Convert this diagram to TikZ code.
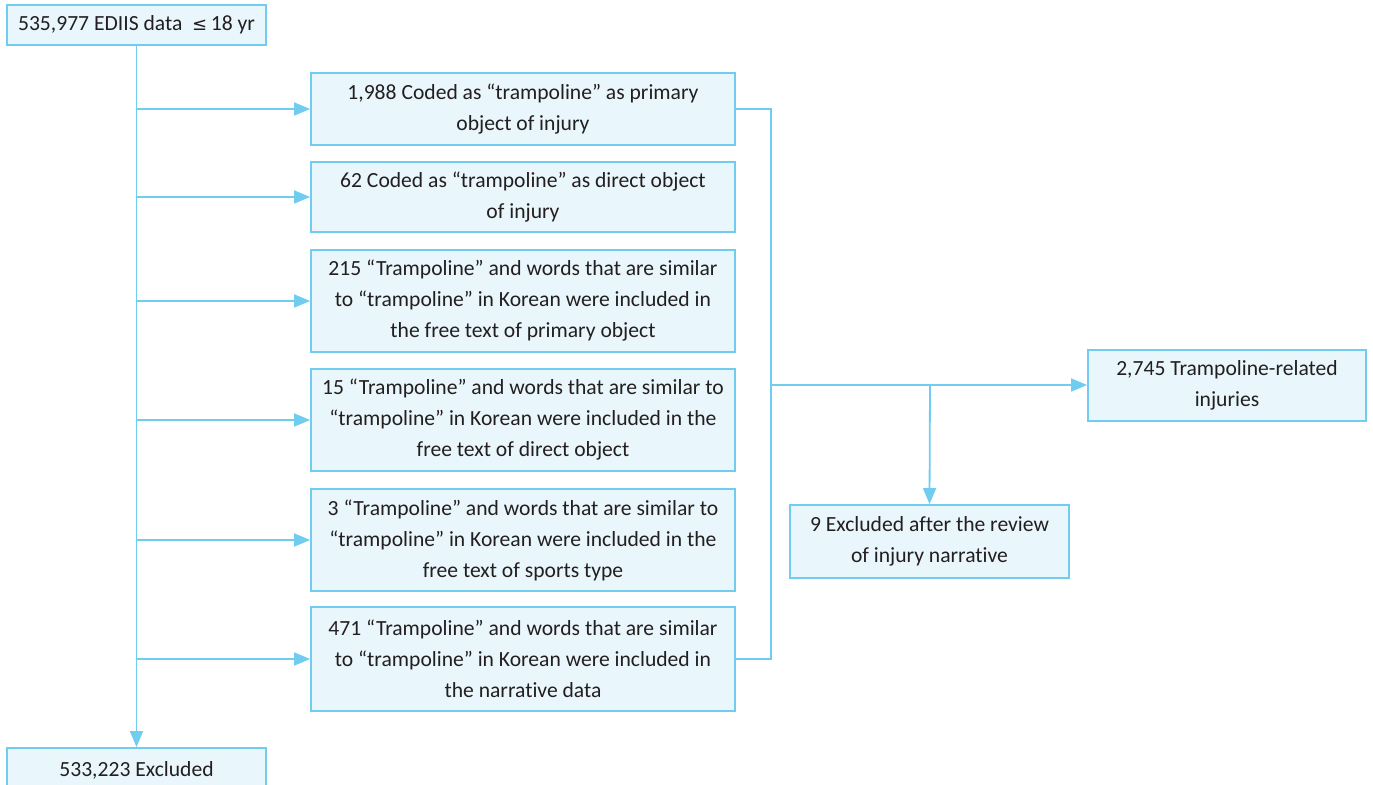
\documentclass[tikz,border=0pt]{standalone}
\usepackage{fontspec}
\setmainfont{Carlito}[Ligatures=NoCommon]
\newfontfamily\symfont{DejaVu Sans}
\usepackage{tikz}
\usetikzlibrary{arrows.meta, calc}
\definecolor{edge}{RGB}{112,205,240}
\definecolor{fillb}{RGB}{233,246,252}
\definecolor{ink}{RGB}{35,31,32}

\begin{document}
\begin{tikzpicture}[x=0.5pt, y=-0.5pt,
    box/.style={draw=edge, fill=fillb, line width=0.9pt, inner sep=0pt,
        align=center, text=ink, font=\fontsize{10.8}{15.5}\selectfont},
    link/.style={draw=edge, line width=0.9pt},
    arr/.style={link, -{Triangle[length=8pt, width=6.5pt]}}]
            \useasboundingbox (0,0) rectangle (1373,785);
            \coordinate (T) at (136.5,25);
            \coordinate (X) at (136.5,770);
            \coordinate (R) at (771,385);
            \coordinate (S) at (930,385);
            \node[box, minimum width=129.5pt, minimum height=20pt] (top) at (T) {535,977 EDIIS data\ \ {\symfont\fontsize{9}{10}\selectfont ≤}\,18 yr};
            \node[box, minimum width=129.5pt, minimum height=22pt] (out) at (X) {533,223 Excluded};
            \node[box, minimum width=212pt, minimum height=36pt] (m1) at (523,109) {1,988 Coded as ``trampoline'' as primary\\object of injury};
            \node[box, minimum width=212pt, minimum height=35pt] (m2) at (523,197) {62 Coded as ``trampoline'' as direct object\\of injury};
            \node[box, minimum width=212pt, minimum height=51pt] (m3) at (523,301) {215 ``Trampoline'' and words that are similar\\to ``trampoline'' in Korean were included in\\the free text of primary object};
            \node[box, minimum width=212pt, minimum height=51pt] (m4) at (523,420) {15 ``Trampoline'' and words that are similar to\\``trampoline'' in Korean were included in the\\free text of direct object};
            \node[box, minimum width=212pt, minimum height=51pt] (m5) at (523,540) {3 ``Trampoline'' and words that are similar to\\``trampoline'' in Korean were included in the\\free text of sports type};
            \node[box, minimum width=212pt, minimum height=52pt] (m6) at (523,659) {471 ``Trampoline'' and words that are similar\\to ``trampoline'' in Korean were included in\\the narrative data};
            \node[box, minimum width=139pt, minimum height=35.5pt] (inj) at (1227,385.5) {2,745 Trampoline-related\\injuries};
            \node[box, minimum width=139.5pt, minimum height=36.5pt] (rev) at (929.5,541.5) {9 Excluded after the review\\of injury narrative};
            \draw[arr] (top.south) -- (out.north);
            \foreach \m in {m1,m2,m3,m4,m5,m6}
                \draw[arr] (top.south |- \m.west) -- (\m.west);
            \draw[link] (m1.east) -| (R) |- (m6.east);
            \draw[arr] (R) -- (inj.west |- R);
            \draw[arr] (S) -- (rev.north);
        \end{tikzpicture}
\end{document}
